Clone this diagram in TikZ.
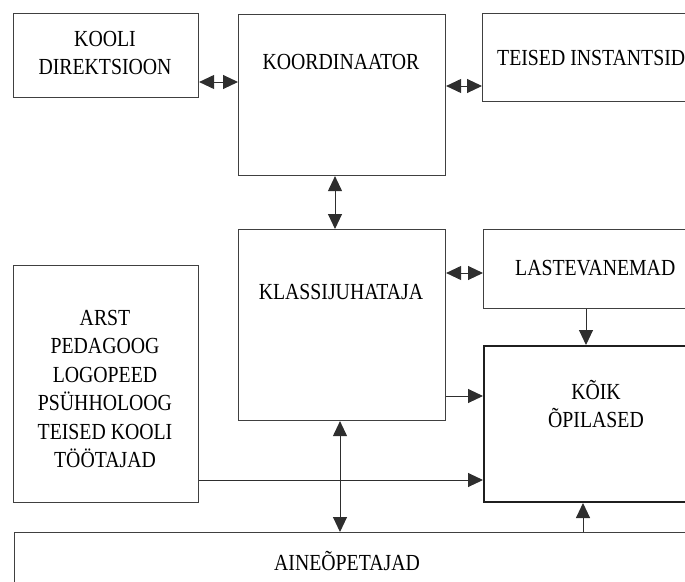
\documentclass[tikz,border=0pt]{standalone}
\usepackage{fontspec}
\setmainfont{Liberation Serif}[FakeStretch=0.86]
\usetikzlibrary{arrows.meta}
\begin{document}
\begin{tikzpicture}[x=1pt,y=-1pt,
  box/.style={draw=black!75, line width=1.1pt, anchor=north west, inner sep=0pt},
  thickbox/.style={box, draw=black!88, line width=2pt},
  lbl/.style={font=\fontsize{23}{28.5}\selectfont, align=center, inner sep=0pt, text=black},
  con/.style={draw=black!82, line width=1pt},
  onetip/.style={con, -{Triangle[length=15pt,width=14pt]}},
  twotip/.style={con, {Triangle[length=15pt,width=14pt]}-{Triangle[length=15pt,width=14pt]}}]
\useasboundingbox (0,0) rectangle (685,581);
\clip (0,0) rectangle (685,581);
% boxes
\node[box, minimum width=185pt, minimum height=84pt] (kd) at (13,13) {};
\node[box, minimum width=207pt, minimum height=161pt] (ko) at (238,14) {};
\node[box, minimum width=260pt, minimum height=88pt] (ti) at (482,13) {};
\node[box, minimum width=207pt, minimum height=191pt] (kl) at (238,229) {};
\node[box, minimum width=260pt, minimum height=79pt] (lv) at (483,229) {};
\node[thickbox, minimum width=260pt, minimum height=156pt] (ks) at (483,345) {};
\node[box, minimum width=185pt, minimum height=237pt] (ar) at (13,265) {};
\node[box, minimum width=720pt, minimum height=100pt] (ai) at (14,532) {};
% texts
\node[lbl] (tkd) at (105,53) {KOOLI\\DIREKTSIOON};
\node[lbl] (tko) at (341,62) {KOORDINAATOR};
\node[lbl, anchor=west] (tti) at (497,58) {TEISED INSTANTSID};
\node[lbl] (tkl) at (341,292) {KLASSIJUHATAJA};
\node[lbl, anchor=west] (tlv) at (515,268) {LASTEVANEMAD};
\node[lbl] (tks) at (596,404) {KÕIK\\ÕPILASED};
\node[lbl] (tar) at (105,389) {ARST\\PEDAGOOG\\LOGOPEED\\PSÜHHOLOOG\\TEISED KOOLI\\TÖÖTAJAD};
\node[lbl] (tai) at (347,561) {AINEÕPETAJAD};
% connectors
\draw[twotip] (kd.east |- 0,82) -- (ko.west |- 0,82);
\draw[twotip] (ko.east |- 0,86) -- (ti.west |- 0,86);
\draw[twotip] (ko.south -| 335,0) -- (kl.north -| 335,0);
\draw[twotip] (kl.east |- 0,273) -- (lv.west |- 0,273);
\draw[onetip] (lv.south -| 586,0) -- (ks.north -| 586,0);
\draw[onetip] (kl.east |- 0,396) -- (ks.west |- 0,396);
\draw[onetip] (ar.east |- 0,480) -- (ks.west |- 0,480);
\draw[twotip] (kl.south -| 340,0) -- (ai.north -| 340,0);
\draw[onetip] (ai.north -| 583,0) -- (ks.south -| 583,0);
\end{tikzpicture}
\end{document}
